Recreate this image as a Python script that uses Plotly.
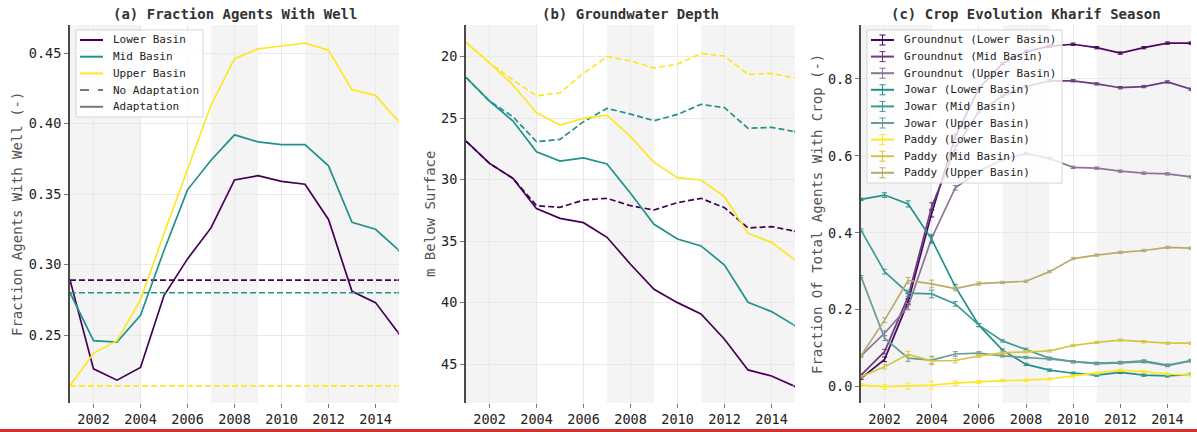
import plotly.graph_objects as go

# ---------------------------------------------------------------- data
years = list(range(2001, 2016))

# (a) fraction of agents with a well, adaptation scenario
well_lower = [0.289, 0.226, 0.218, 0.227, 0.278, 0.304, 0.326, 0.360, 0.363, 0.359,
              0.357, 0.332, 0.281, 0.273, 0.251]
well_mid = [0.280, 0.246, 0.245, 0.264, 0.310, 0.353, 0.374, 0.392, 0.387, 0.385,
            0.385, 0.370, 0.330, 0.325, 0.310]
well_upper = [0.214, 0.237, 0.246, 0.275, 0.322, 0.368, 0.413, 0.446, 0.453, 0.455,
              0.457, 0.452, 0.424, 0.420, 0.401]
# (a) no-adaptation scenario (well ownership stays at its initial level)
well_lower_na = [0.289, 0.289, 0.289, 0.289, 0.289, 0.289, 0.289, 0.289, 0.289, 0.289,
                 0.289, 0.289, 0.289, 0.289, 0.289]
well_mid_na = [0.280, 0.280, 0.280, 0.280, 0.280, 0.280, 0.280, 0.280, 0.280, 0.280,
               0.280, 0.280, 0.280, 0.280, 0.280]
well_upper_na = [0.214, 0.214, 0.214, 0.214, 0.214, 0.214, 0.214, 0.214, 0.214, 0.214,
                 0.214, 0.214, 0.214, 0.214, 0.214]

# (b) groundwater depth, m below surface
gw_lower = [26.85, 28.67, 29.89, 32.35, 33.14, 33.49, 34.68, 36.87, 38.90, 39.99,
            40.91, 42.97, 45.46, 45.95, 46.81]
gw_mid = [21.68, 23.60, 25.23, 27.72, 28.48, 28.23, 28.72, 31.10, 33.62, 34.82,
          35.38, 36.93, 39.96, 40.72, 41.86]
gw_upper = [18.84, 20.49, 22.30, 24.55, 25.55, 25.01, 24.74, 26.50, 28.59, 29.83,
            30.02, 31.38, 34.36, 35.09, 36.52]
gw_lower_na = [26.85, 28.67, 29.89, 32.11, 32.24, 31.65, 31.51, 32.11, 32.46, 31.86,
               31.51, 32.27, 33.92, 33.81, 34.19]
gw_mid_na = [21.68, 23.60, 24.88, 26.91, 26.72, 25.28, 24.20, 24.66, 25.20, 24.69,
             23.87, 24.14, 25.82, 25.74, 26.09]
gw_upper_na = [18.84, 20.49, 21.90, 23.17, 22.93, 21.35, 20.00, 20.33, 20.92, 20.60,
               19.73, 19.95, 21.44, 21.35, 21.73]

# (c) fraction of agents growing each crop in the kharif season
groundnut_lower = [0.022, 0.071, 0.221, 0.451, 0.650, 0.775, 0.840, 0.871, 0.885, 0.890,
                   0.881, 0.867, 0.881, 0.893, 0.893]
groundnut_mid = [0.030, 0.091, 0.234, 0.468, 0.620, 0.715, 0.755, 0.780, 0.795, 0.795,
                 0.787, 0.777, 0.780, 0.792, 0.773]
groundnut_upper = [0.080, 0.139, 0.208, 0.386, 0.517, 0.560, 0.590, 0.606, 0.593, 0.570,
                   0.568, 0.560, 0.555, 0.553, 0.545]
jowar_lower = [0.487, 0.498, 0.475, 0.383, 0.260, 0.160, 0.095, 0.058, 0.043, 0.035,
               0.030, 0.037, 0.030, 0.028, 0.032]
jowar_mid = [0.407, 0.299, 0.243, 0.241, 0.215, 0.160, 0.119, 0.097, 0.074, 0.065,
             0.060, 0.062, 0.065, 0.055, 0.067]
jowar_upper = [0.286, 0.126, 0.074, 0.069, 0.085, 0.087, 0.080, 0.076, 0.072, 0.065,
               0.061, 0.063, 0.067, 0.056, 0.068]
paddy_lower = [0.004, 0.000, 0.002, 0.004, 0.009, 0.012, 0.016, 0.017, 0.020, 0.028,
               0.035, 0.043, 0.039, 0.033, 0.030]
paddy_mid = [0.026, 0.052, 0.084, 0.067, 0.068, 0.080, 0.088, 0.091, 0.093, 0.107,
             0.115, 0.121, 0.117, 0.113, 0.113]
paddy_upper = [0.080, 0.173, 0.276, 0.267, 0.255, 0.268, 0.271, 0.274, 0.299, 0.333,
               0.342, 0.349, 0.354, 0.362, 0.360]
# spread between model runs (one standard deviation)
crop_std = [0.003, 0.006, 0.008, 0.010, 0.006, 0.004, 0.003, 0.003, 0.003, 0.003,
            0.003, 0.003, 0.003, 0.003, 0.003]

# drought periods shaded in every panel
drought_periods = [(2001, 2004), (2007, 2009), (2011, 2015)]
tick_years = [2002, 2004, 2006, 2008, 2010, 2012, 2014]

# ---------------------------------------------------------------- style
FONT = "DejaVu Sans Mono"
C_LOWER, C_MID, C_UPPER = "#440154", "#21918c", "#fde725"
CROP_COLORS = {
    "Groundnut (Lower Basin)": "#48065c",
    "Groundnut (Mid Basin)": "#6a3b7e",
    "Groundnut (Upper Basin)": "#8c7495",
    "Jowar (Lower Basin)": "#21918c",
    "Jowar (Mid Basin)": "#3f9a95",
    "Jowar (Upper Basin)": "#6b9a97",
    "Paddy (Lower Basin)": "#fde725",
    "Paddy (Mid Basin)": "#d6c545",
    "Paddy (Upper Basin)": "#b7ac6a",
}
LW = 1.7
DASH = "6px,3px"
W, H = 1197, 432


def end_marks(n):
    """Marker sizes: only the final year gets a small end mark."""
    return [0] * (n - 1) + [5]


fig = go.Figure()

# ---------------------------------------------------------------- panel (a)
basins_a = [
    ("Lower Basin", well_lower, well_lower_na, C_LOWER),
    ("Mid Basin", well_mid, well_mid_na, C_MID),
    ("Upper Basin", well_upper, well_upper_na, C_UPPER),
]
for name, ad, na, col in basins_a:
    fig.add_trace(go.Scatter(
        x=years, y=na, mode="lines+markers", xaxis="x", yaxis="y",
        line=dict(color=col, width=LW, dash=DASH),
        marker=dict(size=end_marks(len(years)), symbol="triangle-left", color=col),
        showlegend=False))
    fig.add_trace(go.Scatter(
        x=years, y=ad, mode="lines+markers", xaxis="x", yaxis="y", name=name,
        line=dict(color=col, width=LW),
        marker=dict(size=end_marks(len(years)), symbol="triangle-left", color=col),
        showlegend=False))

# ---------------------------------------------------------------- panel (b)
for ad, na, col in [
    (gw_lower, gw_lower_na, C_LOWER),
    (gw_mid, gw_mid_na, C_MID),
    (gw_upper, gw_upper_na, C_UPPER),
]:
    fig.add_trace(go.Scatter(
        x=years, y=na, mode="lines+markers", xaxis="x2", yaxis="y2",
        line=dict(color=col, width=LW, dash=DASH),
        marker=dict(size=end_marks(len(years)), symbol="triangle-left", color=col),
        showlegend=False))
    fig.add_trace(go.Scatter(
        x=years, y=ad, mode="lines+markers", xaxis="x2", yaxis="y2",
        line=dict(color=col, width=LW),
        marker=dict(size=end_marks(len(years)), symbol="triangle-left", color=col),
        showlegend=False))

# ---------------------------------------------------------------- panel (c)
crop_series = [
    ("Groundnut (Lower Basin)", groundnut_lower),
    ("Groundnut (Mid Basin)", groundnut_mid),
    ("Groundnut (Upper Basin)", groundnut_upper),
    ("Jowar (Lower Basin)", jowar_lower),
    ("Jowar (Mid Basin)", jowar_mid),
    ("Jowar (Upper Basin)", jowar_upper),
    ("Paddy (Lower Basin)", paddy_lower),
    ("Paddy (Mid Basin)", paddy_mid),
    ("Paddy (Upper Basin)", paddy_upper),
]
for name, vals in crop_series:
    col = CROP_COLORS[name]
    fig.add_trace(go.Scatter(
        x=years, y=vals, mode="lines", name=name, xaxis="x3", yaxis="y3",
        line=dict(color=col, width=LW),
        error_y=dict(type="data", array=crop_std, color=col, thickness=1, width=2.5),
        showlegend=False))

# ---------------------------------------------------------------- layout
y_dom = [29 / H, 407 / H]
panels = [
    ("x", "y", [70 / W, 399 / W]),
    ("x2", "y2", [466 / W, 795 / W]),
    ("x3", "y3", [861 / W, 1191 / W]),
]

common_x = dict(range=[2001, 2015], tickvals=tick_years, ticks="outside", ticklen=4,
                tickcolor="#777777", tickfont=dict(family=FONT, size=13.5, color="#222222"),
                showgrid=True, gridcolor="#e9e9e9", gridwidth=1, zeroline=False,
                showline=False)
common_y = dict(ticks="outside", ticklen=4, tickcolor="#777777",
                tickfont=dict(family=FONT, size=13.5, color="#222222"),
                showgrid=True, gridcolor="#e9e9e9", gridwidth=1, zeroline=False,
                showline=True, linecolor="#4a4a4a", linewidth=2)

layout = dict(
    width=W, height=H, autosize=False, showlegend=False,
    margin=dict(l=0, r=0, t=0, b=0),
    paper_bgcolor="white", plot_bgcolor="white",
    font=dict(family=FONT, color="#333333"),
)
for xa, ya, dom in panels:
    layout["xaxis" + xa[1:]] = dict(common_x, domain=dom, anchor=ya)
    layout["yaxis" + ya[1:]] = dict(common_y, domain=y_dom, anchor=xa)

layout["yaxis"].update(range=[0.2018, 0.4699], tickvals=[0.25, 0.30, 0.35, 0.40, 0.45],
                       tickformat=".2f")
layout["yaxis2"].update(range=[48.15, 17.42], tickvals=[20, 25, 30, 35, 40, 45])
layout["yaxis3"].update(range=[-0.0424, 0.94], tickvals=[0.0, 0.2, 0.4, 0.6, 0.8],
                        tickformat=".1f")
fig.update_layout(**layout)

shapes = []
annotations = []

# shaded drought periods
for xa, ya, _ in panels:
    for x0, x1 in drought_periods:
        shapes.append(dict(type="rect", xref=xa, yref=ya + " domain", x0=x0, x1=x1,
                           y0=0, y1=1, fillcolor="#f4f4f4", line=dict(width=0),
                           layer="below"))

# red rule along the bottom edge
shapes.append(dict(type="line", xref="paper", yref="paper", x0=0, x1=1,
                   y0=1.4 / H, y1=1.4 / H, line=dict(color="#d32f2f", width=3)))


def px_x(v):
    return v / W


def px_y(v):
    return 1 - v / H


def legend_box(left, top, right, bottom, entries, row_h, sample_w, text_dx, errbar=False):
    """Framed legend in pixel coordinates: entries are (label, colour, dash)."""
    shapes.append(dict(type="rect", xref="paper", yref="paper",
                       x0=px_x(left), x1=px_x(right), y0=px_y(bottom), y1=px_y(top),
                       fillcolor="rgba(255,255,255,0.8)",
                       line=dict(color="#d6d6d6", width=1), layer="above"))
    for i, (label, col, dash) in enumerate(entries):
        yc = top + 10 + i * row_h
        x0 = left + 4
        x1 = x0 + sample_w
        shapes.append(dict(type="line", xref="paper", yref="paper",
                           x0=px_x(x0), x1=px_x(x1), y0=px_y(yc), y1=px_y(yc),
                           line=dict(color=col, width=2, dash=dash), layer="above"))
        if errbar:
            xm = (x0 + x1) / 2
            shapes.append(dict(type="line", xref="paper", yref="paper",
                               x0=px_x(xm), x1=px_x(xm), y0=px_y(yc - 5), y1=px_y(yc + 5),
                               line=dict(color=col, width=1), layer="above"))
            for yy in (yc - 5, yc + 5):
                shapes.append(dict(type="line", xref="paper", yref="paper",
                                   x0=px_x(xm - 3), x1=px_x(xm + 3),
                                   y0=px_y(yy), y1=px_y(yy),
                                   line=dict(color=col, width=1), layer="above"))
        annotations.append(dict(text=label, x=px_x(left + text_dx), y=px_y(yc),
                                xref="paper", yref="paper", showarrow=False,
                                xanchor="left", yanchor="middle",
                                font=dict(family=FONT, size=11, color="#222222")))


legend_a = [(name, col, "solid") for name, _, _, col in basins_a]
legend_a += [("No Adaptation", "#777777", "dash"), ("Adaptation", "#777777", "solid")]
legend_box(76, 30, 203, 117, legend_a, 16.7, 23, 35)

legend_c = [(name, CROP_COLORS[name], "solid") for name, _ in crop_series]
legend_box(867, 30, 1062, 183, legend_c, 16.6, 23, 35, errbar=True)

# panel titles and y-axis labels
titles = [("(a) Fraction Agents With Well", 234.5),
          ("(b) Groundwater Depth", 630.5),
          ("(c) Crop Evolution Kharif Season", 1026)]
for text, xc in titles:
    annotations.append(dict(text="<b>" + text + "</b>", x=px_x(xc), y=px_y(14),
                            xref="paper", yref="paper", showarrow=False,
                            xanchor="center", yanchor="middle",
                            font=dict(family=FONT, size=14, color="#333333")))
ylabels = [("Fraction Agents With Well (-)", 17),
           ("m Below Surface", 430),
           ("Fraction Of Total Agents With Crop (-)", 817)]
for text, xc in ylabels:
    annotations.append(dict(text=text, x=px_x(xc), y=(y_dom[0] + y_dom[1]) / 2,
                            xref="paper", yref="paper", showarrow=False,
                            xanchor="center", yanchor="middle", textangle=-90,
                            font=dict(family=FONT, size=14, color="#555555")))

fig.update_layout(shapes=shapes, annotations=annotations)

fig.write_html("out.html")
